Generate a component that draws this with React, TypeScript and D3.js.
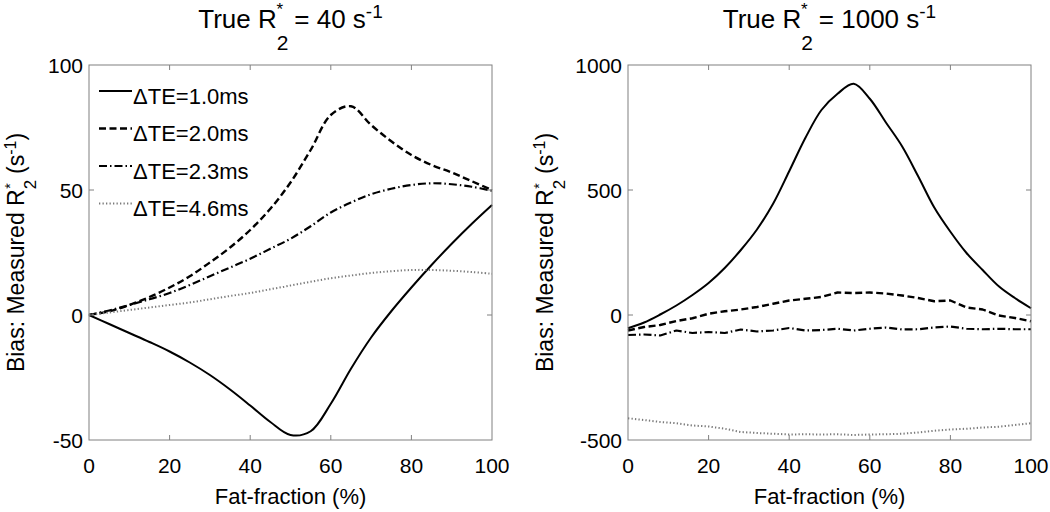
import React from "react";
import * as d3 from "d3";

// ---------- data ----------
const fatFractionLeft = [0, 5, 10, 15, 20, 25, 30, 35, 40, 45, 50, 55, 60, 65, 70, 75, 80, 85, 90, 95, 100];
const leftTE10 = [0, -3.6, -7.2, -10.8, -14.6, -19, -24, -29.8, -36.2, -42.8, -48, -46.5, -35.5, -21.5, -9, 1.5, 11, 20, 28.5, 36.5, 44];
const leftTE20 = [0, 1.5, 4, 7.2, 11, 15.5, 21, 27, 34, 42.5, 53, 66, 80, 83.5, 76, 69.5, 64, 60, 57, 53.5, 50];
const leftTE23 = [0, 1.8, 4, 6.3, 8.8, 12, 15.5, 19, 22.5, 26.5, 30.5, 35.5, 41, 45, 48.3, 50.5, 52, 52.7, 52.3, 51.3, 49.7];
const leftTE46 = [0, 1, 2, 3, 4, 5, 6.3, 7.6, 8.8, 10.3, 11.8, 13.3, 14.7, 15.8, 16.8, 17.5, 18, 18, 17.7, 17.2, 16.5];

const fatFractionRight = [0, 4, 8, 12, 16, 20, 24, 28, 32, 36, 40, 44, 48, 52, 56, 60, 64, 68, 72, 76, 80, 84, 88, 92, 96, 100];
const rightTE10 = [-53, -30, 2, 38, 80, 128, 188, 260, 342, 445, 575, 708, 820, 885, 925, 865, 770, 675, 555, 430, 333, 248, 180, 115, 68, 27];
const rightTE20 = [-62, -48, -40, -24, -13, 5, 15, 22, 32, 45, 58, 65, 72, 90, 88, 90, 86, 78, 68, 55, 58, 30, 22, -2, -12, -25];
const rightTE23 = [-80, -78, -82, -62, -72, -68, -72, -58, -66, -62, -52, -62, -60, -55, -62, -55, -50, -58, -57, -50, -46, -55, -57, -55, -57, -57];
const rightTE46 = [-413, -420, -428, -433, -442, -446, -455, -468, -472, -475, -478, -477, -478, -477, -480, -478, -477, -475, -470, -463, -458, -455, -450, -447, -440, -433];

const xTicks = [0, 20, 40, 60, 80, 100];
const yTicksLeft = [-50, 0, 50, 100];
const yTicksRight = [-500, 0, 500, 1000];
const legendLabels = ["\u0394TE=1.0ms", "\u0394TE=2.0ms", "\u0394TE=2.3ms", "\u0394TE=4.6ms"];

// ---------- styles ----------
const FONT = "'Liberation Sans', Arial, Helvetica, sans-serif";
const lineStyles = [
  { color: "#000", width: 2, dash: undefined as string | undefined },
  { color: "#000", width: 2.4, dash: "7,3.5" },
  { color: "#000", width: 2.2, dash: "8,3,1.5,3" },
  { color: "#7a7a7a", width: 2, dash: "1.3,2.2" },
];
const BOX = "#808080";
const TOP = 65;
const BOTTOM = 440;

function Title({ cx, value }: { cx: number; value: string }) {
  return (
    <text x={cx} y={28} textAnchor="middle" fontSize={26} fontFamily={FONT} fill="#000" style={{ whiteSpace: "pre" }}>
      True R
      <tspan dy={22} fontSize={21}>2</tspan>
      <tspan dx={-12} dy={-35} fontSize={17}>*</tspan>
      <tspan dx={4} dy={13} fontSize={26}>{" = " + value + " s"}</tspan>
      <tspan dy={-10} fontSize={19}>-1</tspan>
    </text>
  );
}

function YLabel({ x, cy }: { x: number; cy: number }) {
  return (
    <text transform={`translate(${x},${cy}) rotate(-90)`} textAnchor="middle" fontSize={23} fontFamily={FONT} fill="#000" style={{ whiteSpace: "pre" }}>
      Bias: Measured R
      <tspan dy={12} fontSize={17}>2</tspan>
      <tspan dx={-9} dy={-21} fontSize={14}>*</tspan>
      <tspan dx={3} dy={9} fontSize={23}>{" (s"}</tspan>
      <tspan dy={-8} fontSize={16}>-1</tspan>
      <tspan dy={8} fontSize={23}>)</tspan>
    </text>
  );
}

type PanelProps = {
  x0: number;
  x1: number;
  domain: [number, number];
  yTicks: number[];
  ff: number[];
  series: number[][];
  smooth: boolean;
  titleValue: string;
  yLabelX: number;
  showLegend: boolean;
};

function Panel({ x0, x1, domain, yTicks, ff, series, smooth, titleValue, yLabelX, showLegend }: PanelProps) {
  const x = d3.scaleLinear().domain([0, 100]).range([x0, x1]);
  const y = d3.scaleLinear().domain(domain).range([BOTTOM, TOP]);
  const cx = (x0 + x1) / 2;
  const tl = 5;
  return (
    <g>
      <Title cx={cx} value={titleValue} />
      {series.map((vals, si) => {
        const gen = d3
          .line<number>()
          .x((_, i) => x(ff[i]))
          .y((d) => y(d))
          .curve(smooth || si === 0 ? d3.curveCatmullRom : d3.curveLinear);
        const st = lineStyles[si];
        return (
          <path key={si} d={gen(vals) || ""} fill="none" stroke={st.color} strokeWidth={st.width} strokeDasharray={st.dash} strokeLinejoin="round" />
        );
      })}
      <rect x={x0} y={TOP} width={x1 - x0} height={BOTTOM - TOP} fill="none" stroke={BOX} strokeWidth={1} />
      {xTicks.map((t) => (
        <g key={"x" + t}>
          {t !== 0 && t !== 100 && (
            <>
              <line x1={x(t)} x2={x(t)} y1={BOTTOM} y2={BOTTOM - tl} stroke={BOX} />
              <line x1={x(t)} x2={x(t)} y1={TOP} y2={TOP + tl} stroke={BOX} />
            </>
          )}
          <text x={x(t)} y={473} textAnchor="middle" fontSize={21} fontFamily={FONT} fill="#000">
            {t}
          </text>
        </g>
      ))}
      {yTicks.map((t, i) => (
        <g key={"y" + t}>
          {i !== 0 && i !== yTicks.length - 1 && (
            <>
              <line x1={x0} x2={x0 + tl} y1={y(t)} y2={y(t)} stroke={BOX} />
              <line x1={x1} x2={x1 - tl} y1={y(t)} y2={y(t)} stroke={BOX} />
            </>
          )}
          <text x={x0 - 6} y={y(t)} dy="0.36em" textAnchor="end" fontSize={21} fontFamily={FONT} fill="#000">
            {t}
          </text>
        </g>
      ))}
      <text x={cx} y={504} textAnchor="middle" fontSize={22} fontFamily={FONT} fill="#000">
        Fat-fraction (%)
      </text>
      <YLabel x={yLabelX} cy={(TOP + BOTTOM) / 2} />
      {showLegend &&
        legendLabels.map((lab, i) => {
          const ly = 91 + i * 37.5;
          const st = lineStyles[i];
          return (
            <g key={lab}>
              <line x1={x0 + 10} x2={x0 + 43} y1={ly} y2={ly} stroke={st.color} strokeWidth={st.width} strokeDasharray={st.dash} />
              <text x={x0 + 44} y={ly + 12.5} fontSize={22} fontFamily={FONT} fill="#000">
                {lab}
              </text>
            </g>
          );
        })}
    </g>
  );
}

export default function App() {
  return (
    <svg width={1050} height={512} style={{ position: "absolute", left: 0, top: 0, background: "#fff" }}>
      <rect x={0} y={0} width={1050} height={512} fill="#fff" />
      <Panel
        x0={89}
        x1={492}
        domain={[-50, 100]}
        yTicks={yTicksLeft}
        ff={fatFractionLeft}
        series={[leftTE10, leftTE20, leftTE23, leftTE46]}
        smooth={true}
        titleValue="40"
        yLabelX={24}
        showLegend={true}
      />
      <Panel
        x0={628}
        x1={1031}
        domain={[-500, 1000]}
        yTicks={yTicksRight}
        ff={fatFractionRight}
        series={[rightTE10, rightTE20, rightTE23, rightTE46]}
        smooth={false}
        titleValue="1000"
        yLabelX={553}
        showLegend={false}
      />
    </svg>
  );
}
